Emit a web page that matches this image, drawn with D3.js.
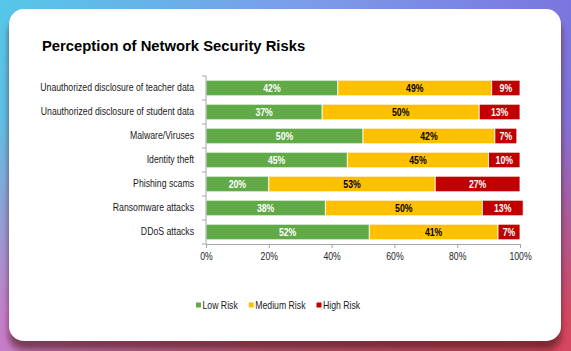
<!DOCTYPE html>
<html>
<head>
<meta charset="utf-8">
<script src="https://cdn.jsdelivr.net/npm/d3@7/dist/d3.min.js"></script>
<style>
  html, body { margin: 0; padding: 0; }
  body { width: 571px; height: 351px; overflow: hidden; }
  text { font-family: "Liberation Sans", Arial, sans-serif; }
</style>
</head>
<body>
<div id="chart"></div>
<script>
var categories = [
	"Unauthorized disclosure of teacher data",
	"Unauthorized disclosure of student data",
	"Malware/Viruses",
	"Identity theft",
	"Phishing scams",
	"Ransomware attacks",
	"DDoS attacks"
];
var series_names = ["Low Risk", "Medium Risk", "High Risk"];
var low_risk = [42, 37, 50, 45, 20, 38, 52];
var medium_risk = [49, 50, 42, 45, 53, 50, 41];
var high_risk = [9, 13, 7, 10, 27, 13, 7];
var x_ticks = [0, 20, 40, 60, 80, 100];

var width = 571;
var height = 351;
var margin = {left: 206, right: 51, top: 76, bottom: 107};
var colors = ["#62a948", "#ffc000", "#c00000"];
var text_colors = ["#ffffff", "#000000", "#ffffff"];
var narrow = 0.83; // no Arial Narrow here, so squeeze Liberation Sans

// squeeze a text horizontally around its own x
function condense(sel) {
	sel.each(function() {
		var t = d3.select(this);
		var x = +t.attr("x") || 0;
		t.attr("x", x / narrow).attr("transform", "scale(" + narrow + ",1)");
	});
}

var svg = d3.select("#chart").append("svg")
	.attr("width", width)
	.attr("height", height);

// background gradient + card
var defs = svg.append("defs");
var top_grad = defs.append("linearGradient").attr("id", "top_grad");
top_grad.append("stop").attr("offset", "0%").attr("stop-color", "#55c8e8");
top_grad.append("stop").attr("offset", "55%").attr("stop-color", "#7c9ce8");
top_grad.append("stop").attr("offset", "100%").attr("stop-color", "#7a76e0");
var bot_grad = defs.append("linearGradient").attr("id", "bot_grad");
bot_grad.append("stop").attr("offset", "0%").attr("stop-color", "#c57ec8");
bot_grad.append("stop").attr("offset", "50%").attr("stop-color", "#c65e7c");
bot_grad.append("stop").attr("offset", "100%").attr("stop-color", "#d4465e");
var fade = defs.append("linearGradient").attr("id", "fade")
	.attr("x1", 0).attr("y1", 0).attr("x2", 0).attr("y2", 1);
fade.append("stop").attr("offset", "0%").attr("stop-color", "#fff").attr("stop-opacity", 0);
fade.append("stop").attr("offset", "35%").attr("stop-color", "#fff").attr("stop-opacity", 0.1);
fade.append("stop").attr("offset", "90%").attr("stop-color", "#fff").attr("stop-opacity", 1);
defs.append("mask").attr("id", "fade_mask")
	.append("rect").attr("width", width).attr("height", height).attr("fill", "url(#fade)");
var shadow = defs.append("filter").attr("id", "shadow")
	.attr("x", "-10%").attr("y", "-10%").attr("width", "120%").attr("height", "130%");
shadow.append("feDropShadow")
	.attr("dx", 0).attr("dy", 9).attr("stdDeviation", 3)
	.attr("flood-color", "#4a0c12").attr("flood-opacity", 0.6);

svg.append("rect").attr("width", width).attr("height", height).attr("fill", "url(#top_grad)");
svg.append("rect").attr("width", width).attr("height", height)
	.attr("fill", "url(#bot_grad)").attr("mask", "url(#fade_mask)");
svg.append("rect")
	.attr("x", 9).attr("y", 9)
	.attr("width", 552).attr("height", 332)
	.attr("rx", 15).attr("ry", 15)
	.attr("fill", "#ffffff")
	.attr("filter", "url(#shadow)");

svg.append("text")
	.attr("x", 42)
	.attr("y", 51)
	.attr("font-weight", "bold")
	.attr("font-size", "14.8px")
	.attr("fill", "#000")
	.text("Perception of Network Security Risks");

var x_scale = d3.scaleLinear()
	.domain([0, 100])
	.range([margin.left, width - margin.right]);

var y_scale = d3.scaleBand()
	.domain(categories)
	.range([margin.top, height - margin.bottom])
	.paddingInner(0.35)
	.paddingOuter(0.175);

// stacked bars
var values = [low_risk, medium_risk, high_risk];
var svg_rec = svg.append("g").attr("class", "rect_g");
for(var i = 0; i < categories.length; i++) {
	var start = 0;
	for(var j = 0; j < values.length; j++) {
		var v = values[j][i];
		svg_rec.append("rect")
			.attr("x", x_scale(start))
			.attr("y", y_scale(categories[i]))
			.attr("width", x_scale(start + v) - x_scale(start))
			.attr("height", y_scale.bandwidth())
			.attr("fill", colors[j])
			.attr("stroke", "#ffffff")
			.attr("stroke-width", 0.8);
		svg_rec.append("text")
			.attr("class", "bar_label")
			.attr("x", (x_scale(start) + x_scale(start + v)) / 2)
			.attr("y", y_scale(categories[i]) + y_scale.bandwidth() / 2)
			.attr("dy", "0.36em")
			.attr("text-anchor", "middle")
			.attr("font-size", "10.5px")
			.attr("font-weight", "bold")
			.attr("fill", text_colors[j])
			.text(v + "%");
		start = start + v;
	}
}
svg_rec.selectAll("text.bar_label").call(condense);

// y axis (ticks on category boundaries)
var svg_axes = svg.append("g").attr("class", "axes");
var y_axis = svg_axes.append("g")
	.attr("transform", "translate(" + margin.left + ",0)")
	.call(d3.axisLeft(y_scale).tickSize(0).tickPadding(12));
y_axis.select(".domain").remove();
y_axis.selectAll("text")
	.attr("font-family", null)
	.attr("font-size", "10.5px")
	.attr("fill", "#1a1a1a")
	.call(condense);

var step = y_scale.step();
var bounds = categories.map(function(d) {
	return y_scale(d) - step * y_scale.paddingInner() / 2;
});
bounds.push(height - margin.bottom);
svg_axes.append("line")
	.attr("x1", margin.left).attr("x2", margin.left)
	.attr("y1", margin.top).attr("y2", height - margin.bottom)
	.attr("stroke", "#a6a6a6");
svg_axes.selectAll("line.ytick")
	.data(bounds)
	.enter()
	.append("line")
	.attr("class", "ytick")
	.attr("x1", margin.left - 4).attr("x2", margin.left)
	.attr("y1", function(d) { return d; })
	.attr("y2", function(d) { return d; })
	.attr("stroke", "#a6a6a6");

// x axis
var x_axis = svg_axes.append("g")
	.attr("transform", "translate(0," + (height - margin.bottom) + ")")
	.call(d3.axisBottom(x_scale)
		.tickValues(x_ticks)
		.tickFormat(function(d) { return d + "%"; })
		.tickSizeOuter(0)
		.tickSize(4)
		.tickPadding(5));
x_axis.attr("font-family", null);
x_axis.select(".domain").attr("stroke", "#a6a6a6");
x_axis.selectAll(".tick line").attr("stroke", "#a6a6a6");
x_axis.selectAll("text")
	.attr("font-size", "10.5px")
	.attr("fill", "#262626")
	.call(condense);

// legend
var legend = svg.append("g").attr("class", "legend");
var lx = 196;
for(var k = 0; k < series_names.length; k++) {
	legend.append("rect")
		.attr("x", lx)
		.attr("y", 302.5)
		.attr("width", 5)
		.attr("height", 5)
		.attr("fill", colors[k]);
	var t = legend.append("text")
		.attr("x", lx + 6.5)
		.attr("y", 305)
		.attr("dy", "0.36em")
		.attr("font-size", "10.5px")
		.attr("fill", "#1a1a1a")
		.text(series_names[k]);
	t.call(condense);
	lx = lx + 6.5 + t.node().getComputedTextLength() * narrow + 11;
}
</script>
</body>
</html>
